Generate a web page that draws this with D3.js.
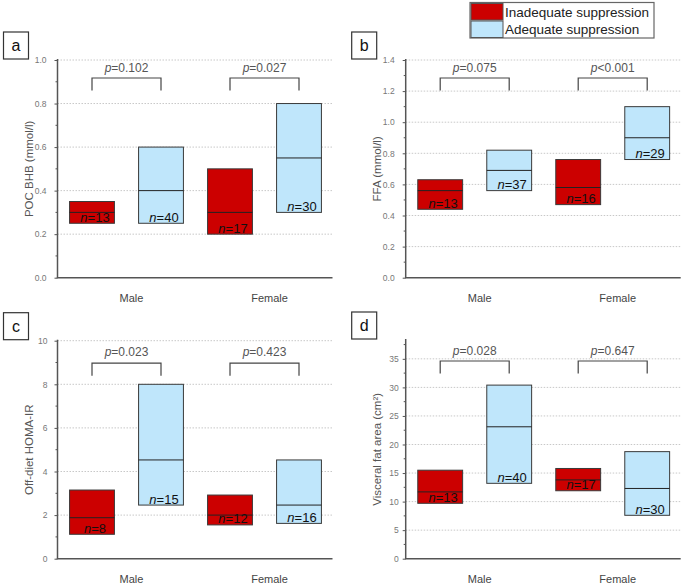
<!DOCTYPE html>
<html>
<head>
<meta charset="utf-8">
<script src="https://cdn.jsdelivr.net/npm/d3@7/dist/d3.min.js"></script>
<style>
  html, body { margin: 0; padding: 0; background: #fff; }
  svg { display: block; font-family: "Liberation Sans", Arial, sans-serif; }
</style>
</head>
<body>
<div id="chart"></div>
<script>
// Four floating-bar panels: range box + median line, by sex and suppression group

var SEXES = ["Male", "Female"];
var GROUPS = ["Inadequate suppression", "Adequate suppression"];

// order in each array: Male-inadequate, Male-adequate, Female-inadequate, Female-adequate
var bhbLow = [0.25, 0.25, 0.20, 0.30];
var bhbMid = [0.30, 0.40, 0.30, 0.55];
var bhbHigh = [0.35, 0.60, 0.50, 0.80];
var bhbN = [13, 40, 17, 30];
var bhbP = ["=0.102", "=0.027"];

var ffaLow = [0.44, 0.56, 0.47, 0.76];
var ffaMid = [0.56, 0.69, 0.58, 0.90];
var ffaHigh = [0.63, 0.82, 0.76, 1.10];
var ffaN = [13, 37, 16, 29];
var ffaP = ["=0.075", "<0.001"];

var homaLow = [1.12, 2.46, 1.55, 1.62];
var homaMid = [1.88, 4.53, 2.00, 2.46];
var homaHigh = [3.15, 8.00, 2.92, 4.53];
var homaN = [8, 15, 12, 16];
var homaP = ["=0.023", "=0.423"];

var vfaLow = [9.7, 13.2, 11.9, 7.6];
var vfaMid = [11.7, 23.1, 13.8, 12.3];
var vfaHigh = [15.5, 30.4, 15.8, 18.75];
var vfaN = [13, 40, 17, 30];
var vfaP = ["=0.028", "=0.647"];

var COLORS = { "Inadequate suppression": "#cc0000", "Adequate suppression": "#bfe6fb" };

var PANELS = [
  { tag: "a", title: "POC BHB (mmol/l)", low: bhbLow, mid: bhbMid, high: bhbHigh, n: bhbN, p: bhbP,
    max: 1.0, major: 0.2, fmt: ".1f", x: 57.5, top: 60, bottom: 277.7, brY: 18, pY: 12, pad: 8 },
  { tag: "b", title: "FFA (mmol/l)", low: ffaLow, mid: ffaMid, high: ffaHigh, n: ffaN, p: ffaP,
    max: 1.4, major: 0.2, fmt: ".1f", x: 405.7, top: 60, bottom: 277.7, brY: 18, pY: 12, pad: 8 },
  { tag: "c", title: "Off-diet HOMA-IR", low: homaLow, mid: homaMid, high: homaHigh, n: homaN, p: homaP,
    max: 10, major: 2, fmt: "d", x: 57.5, top: 340.7, bottom: 558.7, brY: 22.5, pY: 15, pad: 7 },
  { tag: "d", title: "Visceral fat area (cm\u00b2)", low: vfaLow, mid: vfaMid, high: vfaHigh, n: vfaN, p: vfaP,
    max: 38.3, major: 5, fmt: "d", x: 405.7, top: 340, bottom: 558.7, brY: 21, pY: 15, pad: 4 }
];

var W = 685, H = 584, AXW = 275;

var svg = d3.select("#chart").append("svg")
  .attr("width", W).attr("height", H)
  .attr("viewBox", "0 0 " + W + " " + H);

var xSex = d3.scaleBand().domain(SEXES).range([0, AXW + 1]);
var xGroup = d3.scaleBand().domain(GROUPS).range([0, xSex.bandwidth()])
  .paddingInner(0.35).paddingOuter(0.175);

PANELS.forEach(function (cfg) {
  var g = svg.append("g").attr("transform", "translate(" + cfg.x + ",0)");
  var y = d3.scaleLinear().domain([0, cfg.max]).range([cfg.bottom, cfg.top]);

  var majors = d3.range(0, cfg.max + 1e-9, cfg.major);
  var minors = d3.range(cfg.major / 2, cfg.max + 1e-9, cfg.major);

  // dotted grid
  g.selectAll("line.grid").data(majors.filter(function (v) { return v > 0; }))
    .enter().append("line")
    .attr("x1", 0).attr("x2", AXW)
    .attr("y1", function (d) { return y(d); }).attr("y2", function (d) { return y(d); })
    .attr("stroke", "#c8c8c8").attr("stroke-width", 1).attr("stroke-dasharray", "1.5,1.5");

  // y axis
  var ax = g.append("g").call(d3.axisLeft(y).tickValues(majors).tickSize(3).tickPadding(cfg.pad)
    .tickFormat(d3.format(cfg.fmt)));
  ax.select(".domain").remove();
  ax.selectAll(".tick line").attr("stroke", "#555").attr("stroke-width", 1);
  ax.selectAll(".tick text").attr("fill", "#777").attr("font-size", 8.5)
    .attr("font-family", "Liberation Sans, Arial, sans-serif");

  g.selectAll("line.minor").data(minors).enter().append("line")
    .attr("x1", -2).attr("x2", 0)
    .attr("y1", function (d) { return y(d); }).attr("y2", function (d) { return y(d); })
    .attr("stroke", "#555").attr("stroke-width", 1);

  g.append("line").attr("x1", 0).attr("x2", 0).attr("y1", cfg.top - 1).attr("y2", cfg.bottom)
    .attr("stroke", "#555").attr("stroke-width", 1.5);
  g.append("line").attr("x1", -0.75).attr("x2", AXW).attr("y1", cfg.bottom).attr("y2", cfg.bottom)
    .attr("stroke", "#555").attr("stroke-width", 1.5);

  // axis titles
  g.append("text")
    .attr("transform", "translate(-29," + (cfg.top + cfg.bottom) / 2 + ") rotate(-90)")
    .attr("text-anchor", "middle").attr("dominant-baseline", "central")
    .attr("font-size", 11.5).attr("fill", "#555").text(cfg.title);

  g.selectAll("text.cat").data(SEXES).enter().append("text")
    .attr("x", function (d) { return xSex(d) + xSex.bandwidth() / 2 + 5; })
    .attr("y", cfg.bottom + 24)
    .attr("text-anchor", "middle").attr("font-size", 11).attr("fill", "#444")
    .text(function (d) { return d; });

  // bars
  var rows = [];
  SEXES.forEach(function (s, i) {
    GROUPS.forEach(function (grp, j) {
      var k = i * 2 + j;
      rows.push({ sex: s, group: grp, low: cfg.low[k], mid: cfg.mid[k], high: cfg.high[k], n: cfg.n[k] });
    });
  });
  function bx(d) { return xSex(d.sex) + xGroup(d.group); }

  var bars = g.selectAll("g.bar").data(rows).enter().append("g");
  bars.append("rect")
    .attr("x", bx).attr("width", xGroup.bandwidth())
    .attr("y", function (d) { return y(d.high); })
    .attr("height", function (d) { return y(d.low) - y(d.high); })
    .attr("fill", function (d) { return COLORS[d.group]; })
    .attr("stroke", "#3a3a3a").attr("stroke-width", 1);
  bars.append("line")
    .attr("x1", bx).attr("x2", function (d) { return bx(d) + xGroup.bandwidth(); })
    .attr("y1", function (d) { return y(d.mid); }).attr("y2", function (d) { return y(d.mid); })
    .attr("stroke", "#222").attr("stroke-width", 1);
  var nt = bars.append("text")
    .attr("x", function (d) { return bx(d) + xGroup.bandwidth() / 2 + 3; })
    .attr("y", function (d) { return y(d.low) - 1.5; })
    .attr("text-anchor", "middle").attr("font-size", 13).attr("fill", "#111");
  nt.append("tspan").attr("font-style", "italic").text("n");
  nt.append("tspan").text(function (d) { return "=" + d.n; });

  // significance brackets
  SEXES.forEach(function (s, i) {
    var x1 = xSex(s) + xGroup(GROUPS[0]) + xGroup.bandwidth() / 2;
    var x2 = xSex(s) + xGroup(GROUPS[1]) + xGroup.bandwidth() / 2;
    var yt = cfg.top + cfg.brY;
    g.append("path")
      .attr("d", "M" + x1 + "," + (yt + 12.5) + "V" + yt + "H" + x2 + "V" + (yt + 12.5))
      .attr("fill", "none").attr("stroke", "#444").attr("stroke-width", 1.2);
    var pt = g.append("text").attr("x", (x1 + x2) / 2).attr("y", cfg.top + cfg.pY)
      .attr("text-anchor", "middle").attr("font-size", 12).attr("fill", "#555");
    pt.append("tspan").attr("font-style", "italic").text("p");
    pt.append("tspan").text(cfg.p[i]);
  });

  // panel tag
  g.append("rect").attr("x", -54).attr("y", cfg.top - 28).attr("width", 25).attr("height", 27)
    .attr("fill", "#fff").attr("stroke", "#333").attr("stroke-width", 1.2);
  g.append("text").attr("x", -41.5).attr("y", cfg.top - 14.5)
    .attr("text-anchor", "middle").attr("dominant-baseline", "central")
    .attr("font-size", 16).attr("fill", "#111").text(cfg.tag);
});

// legend
var leg = svg.append("g").attr("transform", "translate(470,2.5)");
leg.append("rect").attr("width", 184).attr("height", 35.5)
  .attr("fill", "#fff").attr("stroke", "#666").attr("stroke-width", 1.2);
GROUPS.forEach(function (grp, i) {
  leg.append("rect").attr("x", 1).attr("y", 1 + i * 17.5).attr("width", 32).attr("height", 16.5)
    .attr("fill", COLORS[grp]).attr("stroke", "#555").attr("stroke-width", 1);
  leg.append("text").attr("x", 35).attr("y", 14.5 + i * 17)
    .attr("font-size", 13.5).attr("fill", "#222").text(grp);
});
</script>
</body>
</html>
